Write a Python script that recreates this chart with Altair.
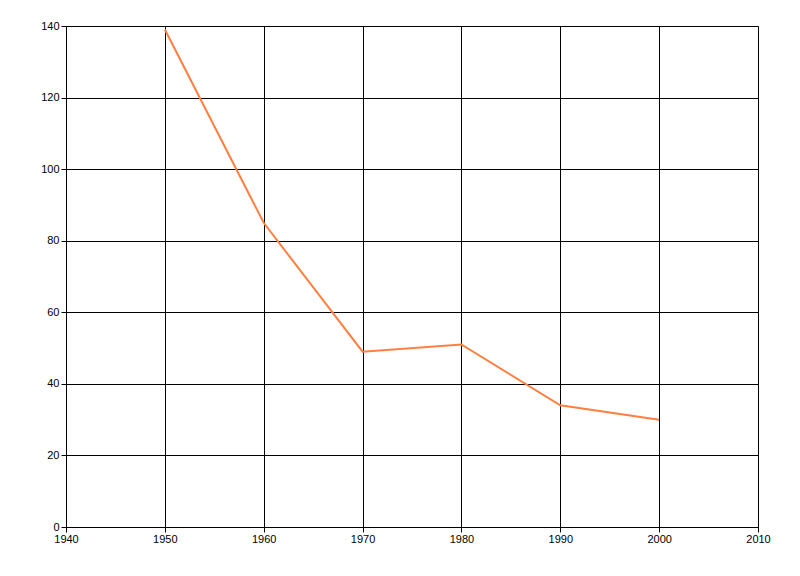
import altair as alt
import pandas as pd

years = [1950, 1960, 1970, 1980, 1990, 2000]
values = [139, 85, 49, 51, 34, 30]
x_ticks = [1940, 1950, 1960, 1970, 1980, 1990, 2000, 2010]
y_ticks = [0, 20, 40, 60, 80, 100, 120, 140]

df = pd.DataFrame({"year": years, "value": values})

common = dict(title=None, grid=True, gridColor="black", gridOpacity=1, gridWidth=1,
              domainColor="black", tickColor="black", tickSize=5,
              labelColor="black", labelFontSize=11, labelFont="Liberation Sans",
              labelFlush=False)

chart = alt.Chart(df).mark_line(color="#ff7f41", strokeWidth=2).encode(
    x=alt.X("year:Q", scale=alt.Scale(domain=[1940, 2010], nice=False, zero=False),
            axis=alt.Axis(values=x_ticks, format="d", labelPadding=1, **common)),
    y=alt.Y("value:Q", scale=alt.Scale(domain=[0, 140], nice=False),
            axis=alt.Axis(values=y_ticks, labelPadding=2, **common)),
).properties(
    width=692, height=501,
    autosize=alt.AutoSizeParams(type="none"),
    padding={"left": 58, "top": 18, "right": 30, "bottom": 40},
).configure_view(stroke="black", strokeWidth=1).configure(background="white")

chart.save("out.html", embed_options={"renderer": "svg", "actions": False})
